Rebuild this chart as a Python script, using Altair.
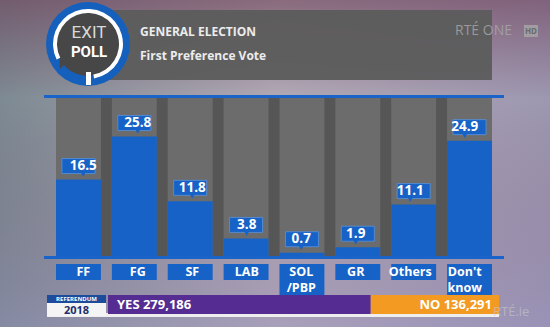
import altair as alt
import pandas as pd

# ---- data ----
parties = ["FF", "FG", "SF", "LAB", "SOL/PBP", "GR", "Others", "Don't know"]
party_lines = [["FF"], ["FG"], ["SF"], ["LAB"], ["SOL", "/PBP"], ["GR"], ["Others"], ["Don't", "know"]]
votes = [16.5, 25.8, 11.8, 3.8, 0.7, 1.9, 11.1, 24.9]

ref_labels = ["YES", "NO"]
ref_counts = [279186, 136291]

title_main = "GENERAL ELECTION"
title_sub = "First Preference Vote"

BLUE = "#1662c6"
FONT = "Open Sans"

df = pd.DataFrame({
    "party": parties,
    "lines": party_lines,
    "v": votes,
    "n": [len(l) for l in party_lines],
})
ref = pd.DataFrame({"label": ref_labels, "count": ref_counts, "order": [0, 1]})
dummy = alt.Data(values=[{}])

X = alt.X("party:N", sort=parties, axis=None,
          scale=alt.Scale(domain=parties, range=[56, 492], paddingInner=0.196, paddingOuter=0))
Y = alt.Y("v:Q", axis=None, scale=alt.Scale(domain=[0, 34.1], range=[256, 98]))


def box(x1, x2, y1, y2, color, **kw):
    return alt.Chart(dummy).mark_rect(color=color, **kw).encode(
        x=alt.value(x1), x2=alt.value(x2), y=alt.value(y1), y2=alt.value(y2))


def label(txt, x, y, **kw):
    return alt.Chart(dummy).mark_text(text=txt, **kw).encode(x=alt.value(x), y=alt.value(y))


# background
bg = box(0, 550, 0, 327, alt.Gradient(
    gradient="linear", x1=0, x2=1, y1=0, y2=0,
    stops=[alt.GradientStop(offset=0, color="#7d8a93"),
           alt.GradientStop(offset=0.5, color="#b2aab6"),
           alt.GradientStop(offset=1, color="#9d97b1")]))
bg2 = box(0, 550, 0, 327, alt.Gradient(
    gradient="linear", x1=0, x2=0, y1=0, y2=1,
    stops=[alt.GradientStop(offset=0, color="rgba(105,55,80,0.55)"),
           alt.GradientStop(offset=0.3, color="rgba(105,55,80,0)"),
           alt.GradientStop(offset=1, color="rgba(150,140,195,0.35)")]))

# header banner
banner = box(105, 492, 10, 80, "#5c5c5c", opacity=0.95)
t1 = label(title_main, 140, 32, font=FONT, fontSize=12, fontWeight="bold", color="#ececec", align="left", baseline="middle")
t2 = label(title_sub, 140, 56, font=FONT, fontSize=12, fontWeight="bold", color="#ececec", align="left", baseline="middle")
rte = label("RTÉ ONE", 455, 31, font=FONT, fontSize=14, color="#a8a8a8", align="left", baseline="middle", opacity=0.8)
hd = box(524, 538, 25, 37, "#a8a8a8", opacity=0.8)
hdt = label("HD", 531, 31.5, font=FONT, fontSize=8, fontWeight="bold", color="#6a6a6a", baseline="middle")

# logo
def arc(r1, r2, t1_, t2_, color):
    return alt.Chart(dummy).mark_arc(radius=r1, radius2=r2, theta=t1_, theta2=t2_, color=color).encode(
        x=alt.value(88), y=alt.value(44))

logo_blue = arc(42, 0, 0, 6.2832, "#1560bd")
logo_gray = arc(32, 0, 0, 6.2832, "#474747")
tail = alt.Chart(dummy).mark_point(shape="M-1,-1 L1,-1 L-1,1 Z", filled=True, size=160, color="#474747", opacity=1).encode(
    x=alt.value(66), y=alt.value(63))
logo_white = arc(35, 31, 4.25, 9.25, "white")
logo_bar = box(86, 91, 72, 85, "white")
exit_t = label("EXIT", 89, 33, font="Roboto", fontSize=17, color="#d9d9d9", baseline="middle")
poll_t = label("POLL", 89, 52, font="Roboto", fontSize=15, fontWeight="bold", color="white", baseline="middle")

# chart area
panel = box(56, 492, 98, 256, "#565656")
cols = alt.Chart(df).mark_bar(color="#6c6c6c").encode(x=X, y=alt.value(98), y2=alt.value(256))
bars = alt.Chart(df).mark_bar(color=BLUE).encode(x=X, y=Y)
top_line = alt.Chart(dummy).mark_rule(color="#1a63c8", strokeWidth=3).encode(
    x=alt.value(44), x2=alt.value(504), y=alt.value(96.5))
bot_line = alt.Chart(dummy).mark_rule(color="#1a63c8", strokeWidth=3).encode(
    x=alt.value(44), x2=alt.value(504), y=alt.value(257.5))

vbox = alt.Chart(df).mark_bar(width=33, color=BLUE, stroke="#5b93dc", strokeWidth=0.8,
                              yOffset=-6, y2Offset=-21).encode(x=X, y=Y, y2=alt.Y2("v"))
tri = alt.Chart(df).mark_point(shape="triangle-down", filled=True, size=28, color=BLUE, opacity=1,
                               yOffset=-5).encode(x=X, y=Y)
vtext = alt.Chart(df).mark_text(font=FONT, fontSize=13.5, fontWeight="bold", color="white",
                                baseline="middle", dy=-13.5).encode(
    x=X, y=Y, text=alt.Text("v:Q", format=".1f"))

cbox = alt.Chart(df).mark_bar(color=BLUE).encode(
    x=X, y=alt.value(263),
    y2=alt.Y2("n"))
cbox = alt.Chart(df).mark_bar(color=BLUE).encode(
    x=X,
    y=alt.Y("n:Q", axis=None, scale=alt.Scale(domain=[1, 2], range=[280, 296])),
    y2=alt.value(263))
ctext = alt.Chart(df).mark_text(font=FONT, fontSize=12.5, fontWeight="bold", color="white",
                                baseline="alphabetic", lineHeight=16).encode(
    x=X, y=alt.value(276), text="lines")

# ticker
strip = box(47, 499, 313, 317, "#eeeeee")
refbox1 = box(47, 106, 295, 303, "#1d4c9c")
refbox2 = box(47, 106, 303, 316, "#f4f4f4")
reft1 = label("REFERENDUM", 76.5, 299, font=FONT, fontSize=6, fontWeight="bold", color="white", baseline="middle")
reft2 = label("2018", 76.5, 310.5, font=FONT, fontSize=11, fontWeight="bold", color="#1c2f6e", baseline="middle")

RS = alt.Scale(domain=[0, sum(ref_counts)], range=[108, 499])
ref_base = alt.Chart(ref).transform_stack(
    stack="count", as_=["x0", "x1"], groupby=[], sort=[alt.SortField("order")]
).transform_calculate(txt="datum.label + ' ' + format(datum.count, ',')")
ref_bars = ref_base.mark_bar().encode(
    x=alt.X("x0:Q", axis=None, scale=RS), x2="x1:Q", y=alt.value(295), y2=alt.value(314),
    color=alt.Color("label:N", legend=None,
                    scale=alt.Scale(domain=ref_labels, range=["#552d92", "#f29a22"])))
yes_t = ref_base.transform_filter("datum.order == 0").mark_text(
    font=FONT, fontSize=13, fontWeight="bold", color="white", align="left", baseline="middle", dx=9
).encode(x=alt.X("x0:Q", axis=None, scale=RS), y=alt.value(305), text="txt:N")
no_t = ref_base.transform_filter("datum.order == 1").mark_text(
    font=FONT, fontSize=13, fontWeight="bold", color="white", align="right", baseline="middle", dx=-7
).encode(x=alt.X("x1:Q", axis=None, scale=RS), y=alt.value(305), text="txt:N")
rteie = label("RTÉ.ie", 493, 312, font=FONT, fontSize=13, color="#c8c8c8", align="left", baseline="middle", opacity=0.6)

chart = alt.layer(
    bg, bg2, banner, t1, t2, rte, hd, hdt,
    logo_blue, tail, logo_gray, logo_white, logo_bar, exit_t, poll_t,
    panel, cols, bars, top_line, bot_line, vbox, tri, vtext, cbox, ctext,
    strip, refbox1, refbox2, reft1, reft2, ref_bars, yes_t, no_t, rteie,
).resolve_scale(x="independent", y="independent", color="independent").properties(
    width=550, height=327, padding=0, autosize=alt.AutoSizeParams(type="none"),
    background="#9a98a8",
).configure_view(stroke=None)

chart.save("out.html", embed_options={"renderer": "svg", "actions": False})
